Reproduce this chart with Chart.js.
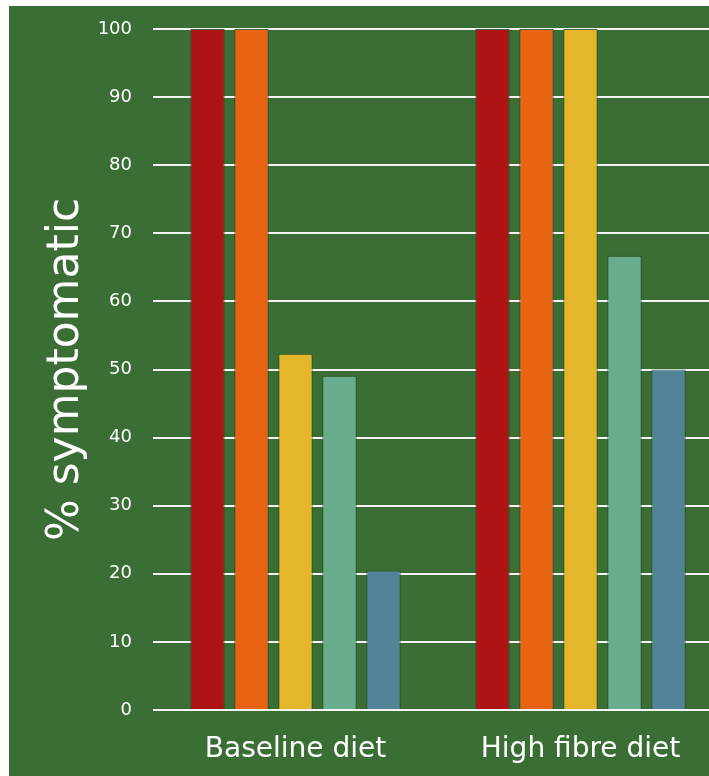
<!DOCTYPE html>
<html>
<head>
<meta charset="utf-8">
<script src="https://cdn.jsdelivr.net/npm/chart.js@4/dist/chart.umd.min.js"></script>
<style>
  html, body { margin: 0; padding: 0; background: #ffffff; overflow: hidden; }
  #wrap { position: absolute; left: 9px; top: 6px; width: 714px; height: 770px; background: #3a6e35; }
</style>
</head>
<body>
<div id="wrap"><canvas id="chart"></canvas></div>
<script>
// categories and values (% symptomatic)
const groups = ['Baseline diet', 'High fibre diet'];
const seriesNames = ['Series 1', 'Series 2', 'Series 3', 'Series 4', 'Series 5'];
const series1 = [100, 100];
const series2 = [100, 100];
const series3 = [52.3, 100];
const series4 = [49.1, 66.7];
const series5 = [20.5, 50];
const barColors = ['#ae1415', '#e86312', '#e5b62a', '#6aad8e', '#538399'];

const FONT = "'Century Gothic', 'DejaVu Sans', sans-serif";

const values = [series1, series2, series3, series4, series5];
const datasets = values.map(function (v, i) {
  return {
    label: seriesNames[i],
    data: v,
    backgroundColor: barColors[i],
    borderColor: 'rgba(38, 70, 36, 0.85)',
    borderWidth: 1,
    borderSkipped: 'bottom',
    categoryPercentage: 0.772,
    barPercentage: 0.78
  };
});

const ctx = document.getElementById('chart');
const chart = new Chart(ctx, {
  type: 'bar',
  data: { labels: groups, datasets: datasets },
  options: {
    responsive: true,
    maintainAspectRatio: false,
    animation: false,
    layout: { padding: { top: 23, right: 0, bottom: 0, left: 0 } },
    plugins: { legend: { display: false }, tooltip: { enabled: false } },
    scales: {
      x: {
        grid: { display: false },
        border: { display: false },
        ticks: { color: '#ffffff', font: { family: FONT, size: 28 }, padding: 15 },
        // fixed band under the plot for the group names
        afterFit: function (scale) { scale.height = 66; }
      },
      y: {
        min: 0,
        max: 100,
        ticks: { stepSize: 10, color: '#ffffff', font: { family: FONT, size: 18 }, padding: 21 },
        grid: { color: '#f4f4f4', lineWidth: 2, drawTicks: false },
        border: { display: false },
        title: {
          display: true,
          text: '% symptomatic',
          color: '#ffffff',
          font: { family: FONT, size: 44 },
          padding: { top: 31, bottom: 0 }
        },
        afterFit: function (scale) {
          scale.width = 144;
          // the top label sits inside the layout padding, no extra room needed
          scale.paddingTop = 0;
          scale.paddingBottom = 0;
        }
      }
    }
  }
});
</script>
</body>
</html>
